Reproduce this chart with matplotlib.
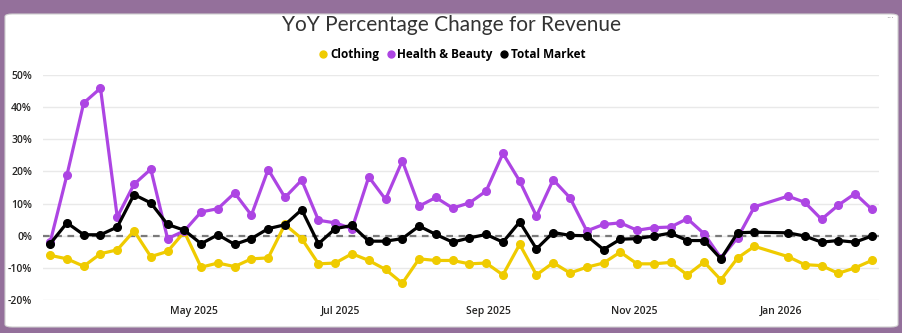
import numpy as np
import pandas as pd
import matplotlib
matplotlib.use("Agg")
import matplotlib.pyplot as plt
import matplotlib.dates as mdates
from matplotlib.patches import FancyBboxPatch
from matplotlib.lines import Line2D
from matplotlib.ticker import FuncFormatter

# weekly periods (week of 2025-12-28 missing in the source)
weeks = pd.date_range("2025-03-02", periods=50, freq="7D")
weeks = weeks[weeks != pd.Timestamp("2025-12-28")]

clothing = [-6.1, -7.2, -9.5, -5.6, -4.4, 1.5, -6.5, -4.9, 1.2, -9.8,
            -8.5, -9.6, -7.2, -6.9, 3.5, -0.9, -8.75, -8.5, -5.6, -7.7,
            -10.5, -14.8, -7.2, -7.7, -7.7, -8.75, -8.5, -12.2, -2.7, -12.2,
            -8.4, -11.6, -9.8, -8.5, -5.1, -8.75, -8.75, -8.3, -12.2, -8.2,
            -13.75, -6.9, -3.3, -6.5, -9.0, -9.3, -11.7, -10.0, -7.7]
health_beauty = [-2.0, 18.9, 41.3, 45.9, 5.8, 16.0, 20.7, -0.9, 1.5, 7.4,
                 8.4, 13.3, 6.4, 20.6, 11.9, 17.3, 4.8, 4.0, 2.2, 18.3,
                 11.3, 23.3, 9.2, 11.9, 8.6, 10.2, 13.9, 25.6, 17.0, 6.1,
                 17.4, 11.8, 1.5, 3.5, 4.0, 1.7, 2.5, 2.7, 5.3, 0.6,
                 -6.9, -0.6, 9.0, 12.3, 10.4, 5.1, 9.5, 13.1, 8.2]
total_market = [-2.5, 4.0, 0.3, 0.3, 2.7, 12.8, 10.2, 3.5, 1.7, -2.5,
                0.3, -2.7, -0.9, 2.2, 3.4, 8.1, -2.5, 2.2, 3.2, -1.7,
                -1.7, -0.9, 3.0, 0.4, -2.0, -0.7, 0.4, -2.0, 4.3, -4.1,
                1.0, 0.1, 0.0, -4.3, -1.1, -0.9, -0.1, 0.8, -1.5, -1.5,
                -7.2, 0.9, 1.1, 0.9, -0.1, -2.0, -1.5, -2.0, -0.1]

series = [("Clothing", clothing, "#EFCB00"),
          ("Health & Beauty", health_beauty, "#AD45E3"),
          ("Total Market", total_market, "#000000")]

fig = plt.figure(figsize=(9.03, 3.33), dpi=100)
fig.patch.set_facecolor("#94709b")

# white card behind everything
card = FancyBboxPatch((5 / 903, 6 / 333), 893 / 903, 313 / 333,
                      boxstyle="round,pad=0,rounding_size=0.008",
                      transform=fig.transFigure, facecolor="white",
                      edgecolor="#d0d0d0", linewidth=0.8, zorder=-5)
fig.patches.append(card)

ax = fig.add_axes([43 / 903, 33 / 333, 836 / 903, 225 / 333])
ax.set_zorder(2)
ax.set_facecolor("none")

for name, vals, col in series:
    ax.plot(weeks, np.array(vals) / 100, color=col, lw=2.3, marker="o",
            ms=5.5, label=name, zorder=3)

ax.axhline(0, color="#7a7a7a", lw=1.6, ls=(0, (3, 2.5)), zorder=2)

ax.set_ylim(-0.2, 0.5)
ax.set_yticks(np.arange(-0.2, 0.51, 0.1))
ax.yaxis.set_major_formatter(FuncFormatter(lambda v, p: f"{v * 100:.0f}%"))
ax.set_xlim(pd.Timestamp("2025-02-27"), pd.Timestamp("2026-02-11"))
ax.xaxis.set_major_locator(mdates.MonthLocator(bymonth=[5, 7, 9, 11, 1]))
ax.xaxis.set_major_formatter(mdates.DateFormatter("%b %Y"))
ax.grid(axis="y", color="#e9e9e9", lw=1)
ax.grid(axis="x", visible=False)
for s in ax.spines.values():
    s.set_visible(False)
ax.tick_params(length=0, labelsize=7.5, labelcolor="#252423", pad=4)
ax.tick_params(axis="y", pad=8)
for lab in ax.get_xticklabels() + ax.get_yticklabels():
    lab.set_fontfamily("Open Sans")
    lab.set_fontweight("semibold")

fig.text(0.5, 0.925, "YoY Percentage Change for Revenue", ha="center",
         va="center", fontsize=15, fontfamily="Lato", fontweight="normal",
         color="#333333")

handles = [Line2D([], [], ls="none", marker="o", ms=5, color=c)
           for _, _, c in series]
fig.legend(handles, [n for n, _, _ in series], loc="center",
           bbox_to_anchor=(0.5, 0.835), ncol=3, frameon=False,
           handletextpad=0.05, columnspacing=0.5, handlelength=1,
           prop={"family": "Open Sans", "weight": "bold", "size": 8.5})

fig.text(0.986, 0.945, "···", ha="center", va="center", fontsize=6,
         color="#888888")

fig.savefig("out.png", dpi=100)
